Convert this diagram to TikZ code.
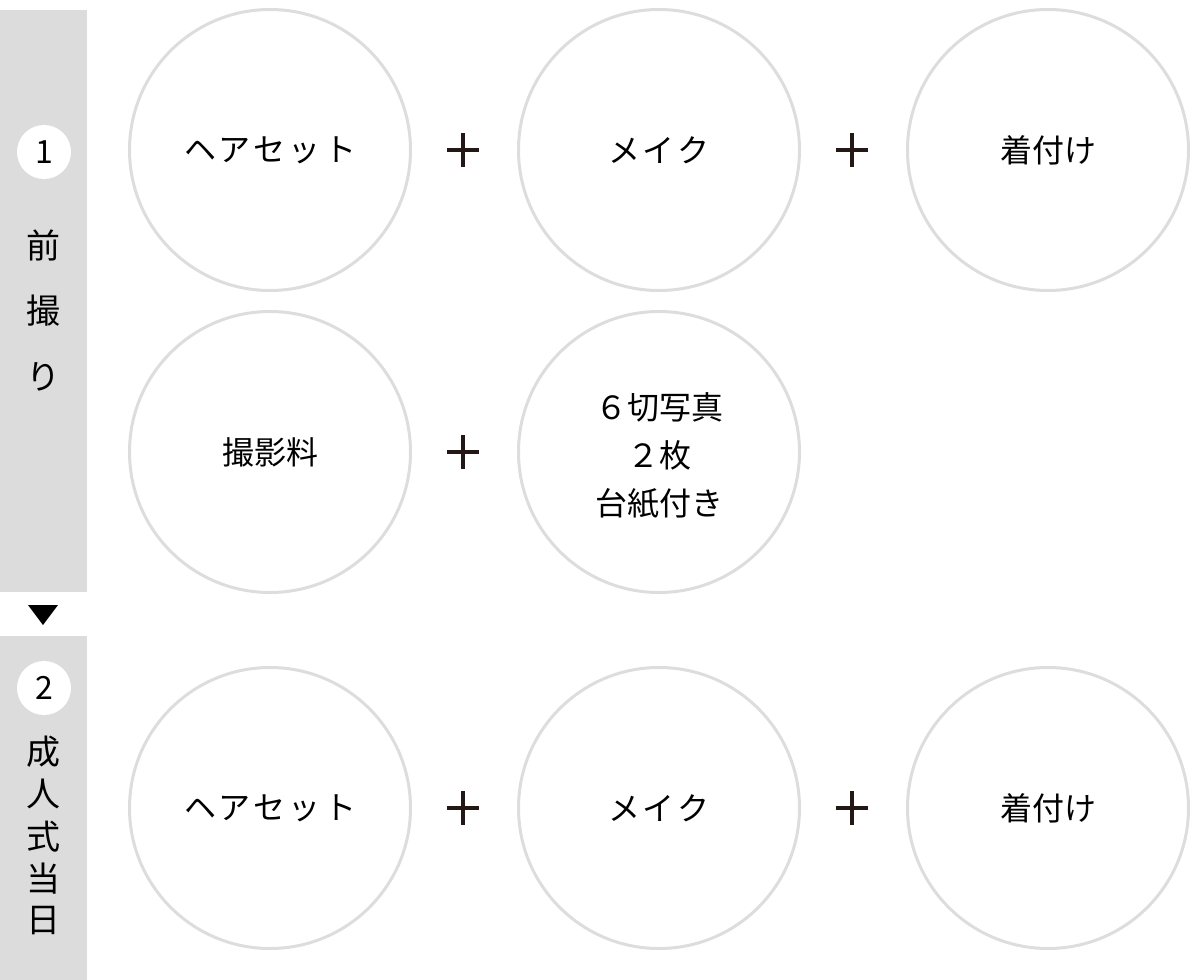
\documentclass[tikz,border=0pt]{standalone}
\usepackage{fontspec}
\newfontfamily\jp{Noto Sans CJK JP}
\definecolor{barg}{HTML}{DCDCDC}
\definecolor{ring}{HTML}{DDDDDD}
\definecolor{ink}{HTML}{231815}
\begin{document}
\begin{tikzpicture}[x=1pt,y=-1pt,
  item/.style={circle,draw=ring,line width=3pt,minimum size=281pt,inner sep=0pt,
    font=\jp\fontsize{32}{48}\selectfont,align=center,text=black},
  itemtext/.style={inner sep=0pt,font=\jp\fontsize{32}{48}\selectfont,align=center,text=black},
  numc/.style={circle,fill=white,minimum size=54pt,inner sep=0pt,
    font=\jp\fontsize{32}{32}\selectfont},
  side/.style={font=\jp\fontsize{34}{34}\selectfont,text=black,inner sep=0pt},
  plusline/.style={draw=ink,line width=3.6pt}]
\useasboundingbox (0,0) rectangle (1200,980);
% sidebars
\fill[barg] (0,10) rectangle (87,592);
\fill[barg] (0,636) rectangle (87,980);
\fill[black] (28,605) -- (58,605) -- (43,625) -- cycle;
\node[numc] (n1) at (44,152) {1};
\node[numc] (n2) at (44,688) {2};
\node[side] (s1a) at (44,245) {前};
\node[side] (s1b) at (44,311) {撮};
\node[side] (s1c) at (44,377) {り};
\node[side] (s2a) at (44,752) {成};
\node[side] (s2b) at (44,794) {人};
\node[side] (s2c) at (44,837) {式};
\node[side] (s2d) at (44,879) {当};
\node[side] (s2e) at (44,921) {日};
% circles
\node[item] (a1) at (270,150) {ヘ\hspace{3pt}ア\hspace{3pt}セ\hspace{3pt}ッ\hspace{3pt}ト};
\node[item] (a2) at (659,150) {メ\hspace{3pt}イ\hspace{3pt}ク};
\node[item] (a3) at (1048,150) {着付け};
\node[item] (b1) at (270,452) {撮影料};
\node[item] (b2) at (659,452) {};
\node[itemtext] (b2t) at (659,456) {６切写真\\２枚\\台紙付き};
\node[item] (c1) at (270,808) {ヘ\hspace{3pt}ア\hspace{3pt}セ\hspace{3pt}ッ\hspace{3pt}ト};
\node[item] (c2) at (659,808) {メ\hspace{3pt}イ\hspace{3pt}ク};
\node[item] (c3) at (1048,808) {着付け};
% plus signs
\foreach \px/\py in {463/150,852/150,463/452,463/808,852/808}{
  \draw[plusline] (\px-16,\py) -- (\px+16,\py);
  \draw[plusline] (\px,\py-17) -- (\px,\py+17);
}
\end{tikzpicture}
\end{document}
